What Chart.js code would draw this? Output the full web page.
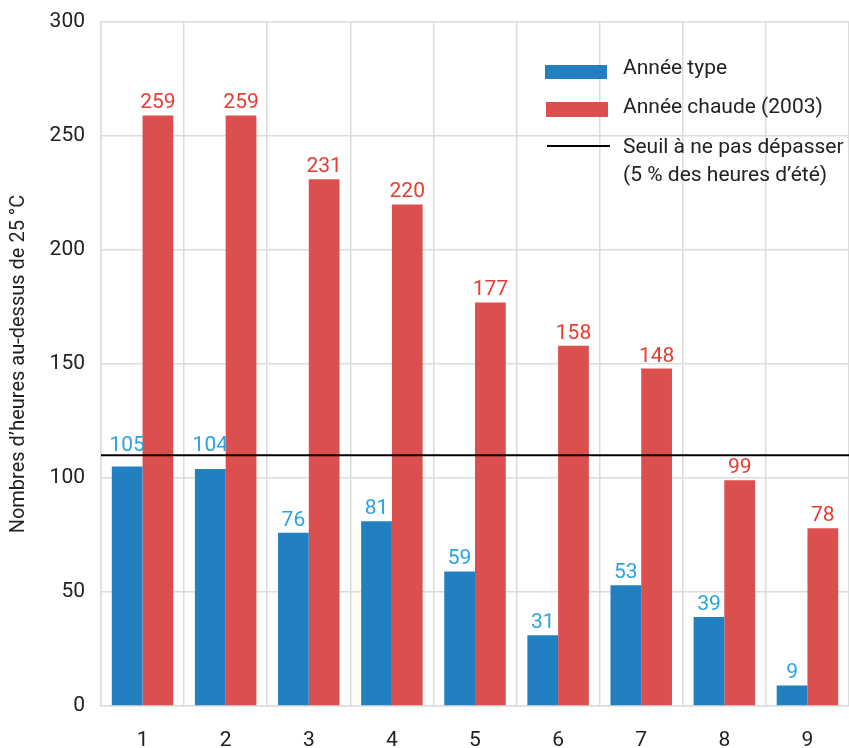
<!DOCTYPE html>
<html>
<head>
<meta charset="utf-8">
<script src="https://cdn.jsdelivr.net/npm/chart.js@4.4.1/dist/chart.umd.min.js"></script>
<style>
  html, body { margin: 0; padding: 0; background: #fff; }
  #wrap { width: 849px; height: 748px; }
</style>
</head>
<body>
<div id="wrap"><canvas id="chart" width="849" height="748"></canvas></div>
<script>
// Données
const categories = ['1', '2', '3', '4', '5', '6', '7', '8', '9'];
const anneeType = [105, 104, 76, 81, 59, 31, 53, 39, 9];
const anneeChaude = [259, 259, 231, 220, 177, 158, 148, 99, 78];
const seuil = 110;
const yTicks = [0, 50, 100, 150, 200, 250, 300];

const FONT = 'Roboto, "Liberation Sans", sans-serif';
const BLUE = '#2380c0';
const RED = '#db4f4f';
const BLUE_TXT = '#2aa3df';
const RED_TXT = '#e63c32';

// Valeurs au-dessus des barres + ligne de seuil + légende
const overlay = {
    id: 'overlay',
    afterDatasetsDraw(chart) {
        const ctx = chart.ctx;
        const area = chart.chartArea;
        const y = chart.scales.y;

        // seuil
        const ys = y.getPixelForValue(seuil);
        ctx.save();
        ctx.strokeStyle = '#000';
        ctx.lineWidth = 2;
        ctx.beginPath();
        ctx.moveTo(area.left, ys);
        ctx.lineTo(area.right, ys);
        ctx.stroke();

        // étiquettes (remontées au-dessus du seuil si elles le chevauchent)
        ctx.font = '21px ' + FONT;
        ctx.textAlign = 'center';
        ctx.textBaseline = 'alphabetic';
        chart.data.datasets.forEach((ds, i) => {
            const meta = chart.getDatasetMeta(i);
            ctx.fillStyle = i === 0 ? BLUE_TXT : RED_TXT;
            meta.data.forEach((bar, j) => {
                let base = bar.y - 7;
                if (base > ys - 2 && base - 15 < ys + 1) base = ys - 4;
                ctx.fillText(String(ds.data[j]), bar.x, base);
            });
        });

        // légende
        const lx = 545, tx = 623;
        ctx.fillStyle = BLUE;
        ctx.fillRect(lx, 65, 62, 14);
        ctx.fillStyle = RED;
        ctx.fillRect(lx + 1, 102, 62, 15);
        ctx.strokeStyle = '#000';
        ctx.lineWidth = 2;
        ctx.beginPath();
        ctx.moveTo(lx + 2, 146);
        ctx.lineTo(lx + 65, 146);
        ctx.stroke();
        ctx.fillStyle = '#222';
        ctx.textAlign = 'left';
        ctx.textBaseline = 'middle';
        ctx.font = '21px ' + FONT;
        ctx.fillText('Année type', tx, 69);
        ctx.fillText('Année chaude (2003)', tx, 108);
        ctx.fillText('Seuil à ne pas dépasser', tx, 148);
        ctx.fillText('(5 % des heures d\u2019été)', tx, 176);
        ctx.restore();
    }
};

new Chart(document.getElementById('chart'), {
    type: 'bar',
    data: {
        labels: categories,
        datasets: [
            { label: 'Année type', data: anneeType, backgroundColor: BLUE },
            { label: 'Année chaude (2003)', data: anneeChaude, backgroundColor: RED }
        ]
    },
    options: {
        responsive: false,
        animation: false,
        layout: { padding: { top: 22, right: 0, bottom: 0, left: 0 } },
        datasets: {
            bar: { categoryPercentage: 0.74, barPercentage: 1.0 }
        },
        scales: {
            x: {
                afterFit(scale) { scale.height = 42; },
                grid: { color: '#dcdcdc', lineWidth: 1.5, drawTicks: false },
                border: { color: '#dcdcdc', width: 1.5 },
                ticks: { color: '#222', font: { family: FONT, size: 21, lineHeight: 1 }, padding: 24 }
            },
            y: {
                min: 0,
                max: 300,
                afterBuildTicks(scale) {
                    scale.ticks = yTicks.map(v => ({ value: v }));
                },
                afterFit(scale) {
                    scale.width = 101;
                    scale.paddingTop = 0;
                    scale.paddingBottom = 0;
                },
                grid: { color: '#dcdcdc', lineWidth: 1.5, drawTicks: false },
                border: { color: '#dcdcdc', width: 1.5 },
                ticks: { color: '#222', font: { family: FONT, size: 21, lineHeight: 1 }, padding: 16 },
                title: {
                    display: true,
                    text: 'Nombres d\u2019heures au-dessus de 25 °C',
                    color: '#222',
                    font: { family: FONT, size: 20 },
                    padding: { top: 7, bottom: 0 }
                }
            }
        },
        plugins: {
            legend: { display: false },
            tooltip: { enabled: false }
        }
    },
    plugins: [overlay]
});
</script>
</body>
</html>
